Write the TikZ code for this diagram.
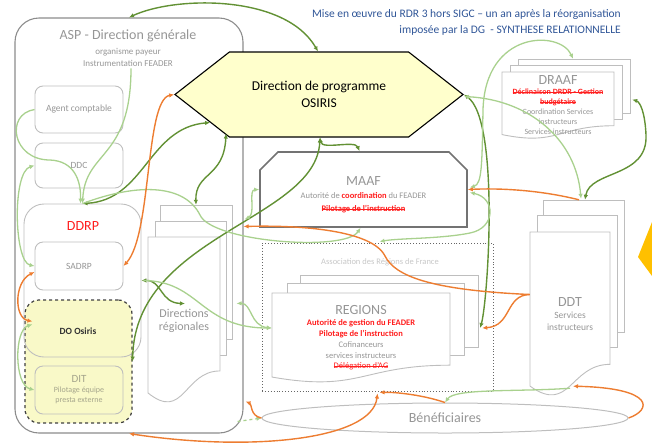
\documentclass[tikz,border=0pt]{standalone}
\usepackage{fontspec}
\setmainfont{Carlito}
\usetikzlibrary{shapes.geometric,shapes.misc,shapes.symbols,arrows.meta,calc}

\definecolor{vertfonce}{RGB}{98,145,52}
\definecolor{vertclair}{RGB}{169,209,142}
\definecolor{orangef}{RGB}{237,125,49}
\definecolor{jaunep}{RGB}{255,255,204}
\definecolor{jauneo}{RGB}{249,249,200}
\definecolor{grist}{RGB}{150,150,150}
\definecolor{grisb}{RGB}{190,190,190}
\definecolor{griscadre}{RGB}{140,140,140}
\definecolor{rouget}{RGB}{255,30,30}
\definecolor{bleut}{RGB}{47,85,151}
\definecolor{jauneor}{RGB}{255,192,0}
\definecolor{beige}{RGB}{165,165,140}

\newcommand\barre[1]{\setbox0\hbox{#1}\rlap{\raisebox{0.27em}{\rule{\wd0}{0.6pt}}}\box0}

\tikzset{
	>={Latex[length=5pt,width=4.5pt]},
	vf/.style={draw=vertfonce, line width=1.4pt},
	vc/.style={draw=vertclair, line width=1.3pt},
	orangec/.style={draw=orangef, line width=1.4pt},
	cadre/.style={draw=griscadre, line width=1.1pt, rounded corners=24pt},
	boite/.style={draw=grisb, line width=0.9pt, rounded corners=8pt, text=grist,
		font=\fontsize{9.5}{11}\selectfont, minimum width=88pt, inner sep=1pt, align=center},
	page/.style={draw=grisb, line width=0.9pt, fill=white},
	doc/.style={text=grist, align=center, inner sep=0pt},
	gros/.style={font=\fontsize{14}{16}\selectfont}
}

\newcommand\pagefond[4]{\path[page] (#1,#2) rectangle (#3,#4);}
\newcommand\pagedoc[4]{\path[page] (#1,#2) -- (#3,#2) -- (#3,{#2+0.802*#4})
	.. controls ({(#1+#3)/2},{#2+0.802*#4}) and ({(#1+#3)/2},{#2+1.107*#4}) .. (#1,{#2+0.934*#4}) -- cycle;}

\begin{document}
\begin{tikzpicture}[x=1pt,y=-1pt]
	\useasboundingbox (0,0) rectangle (652,445);
	
	\node[anchor=north east, align=right, text=bleut, inner sep=0pt,
		font=\fontsize{11.5}{16.5}\selectfont] (titre) at (621,9)
		{Mise en œuvre du RDR 3 hors SIGC – un an après la réorganisation\\
		imposée par la DG \ - SYNTHESE RELATIONNELLE};
	
	\node[cadre, minimum width=228pt, minimum height=415pt] (asp) at (129,225.5) {};
	\node[text=grist, gros, inner sep=0pt] (asptitre) at (128,36) {ASP - Direction générale};
	\node[text=grist, align=center, inner sep=0pt, font=\fontsize{9}{12}\selectfont]
		(aspsub) at (128,57) {organisme payeur\\Instrumentation FEADER};
	
	\node[boite, minimum height=47pt] (agent) at (79,109.5) {Agent comptable};
	\node[boite, minimum height=45pt] (ddc) at (79,165.5) {DDC};
	\node[draw=black!75, dashed, line width=1.2pt, fill=jauneo, rounded corners=14pt,
		minimum width=107pt, minimum height=123pt] (doosiris) at (78.5,361.5) {};
	\node[draw=grisb, line width=0.9pt, rounded corners=20pt,
		minimum width=117pt, minimum height=153pt] (ddrp) at (82.5,280.5) {};
	\node[text=rouget, font=\fontsize{14}{16}\selectfont, inner sep=0pt] (ddrptitre) at (83,226) {DDRP};
	\node[boite, minimum height=48pt, fill=white] (sadrp) at (79,266) {SADRP};
	\node[font=\fontsize{9.5}{11}\selectfont\bfseries, text=black!80, inner sep=0pt] (dotitre) at (78,331) {DO Osiris};
	\node[boite, minimum height=48pt, fill=jauneo, text=beige, font=\fontsize{8}{10}\selectfont] (dit) at (79,390)
		{{\fontsize{11}{12}\selectfont DIT}\\Pilotage équipe\\presta externe};
	
	\pagefond{160}{205}{232}{339}
	\pagefond{155}{221}{226}{355}
	\pagedoc{148}{237}{220}{167}
	\node[doc, minimum width=72pt, minimum height=167pt, font=\fontsize{12}{13}\selectfont] (dirreg) at (184,320.5)
		{Directions\\régionales};
	
	\node[signal, signal to=west and east, signal pointer angle=76, draw=black, line width=1.1pt,
		fill=jaunep, minimum width=288pt, minimum height=85pt, align=center,
		font=\fontsize{13.5}{17}\selectfont] (dirprog) at (319,94.5) {Direction de programme\\OSIRIS};
	
	\pagefond{518}{59}{630}{113}
	\pagefond{510}{65}{622}{119}
	\pagedoc{502}{72}{614}{67}
	\node[doc, minimum width=112pt, minimum height=67pt, font=\fontsize{8}{10}\selectfont] (draaf) at (558,105.5)
		{{\fontsize{14}{14}\selectfont DRAAF}\\
		{\color{rouget}\bfseries\barre{Déclinaison DRDR - Gestion}}\\
		{\color{rouget}\bfseries\barre{budgétaire}}\\
		Coordination Services\\instructeurs\\Services instructeurs};
	
	\node[chamfered rectangle, chamfered rectangle corners={north west,north east},
		chamfered rectangle xsep=9pt, chamfered rectangle ysep=9pt,
		draw=black!55, line width=1.6pt, fill=white, minimum width=207pt, minimum height=75pt,
		text=grist, align=center, font=\fontsize{8.5}{13}\selectfont] (maaf) at (363.5,189.5)
		{{\fontsize{14}{14}\selectfont\rule{0pt}{20pt}MAAF}\\
		Autorité de {\color{rouget}\bfseries coordination} du FEADER\\
		{\color{rouget}\bfseries\barre{Pilotage de l’instruction}}};
	
	\node[draw=black!60, dotted, line width=0.9pt, minimum width=231pt, minimum height=148pt] (assoc) at (377.5,317) {};
	\node[text=black!22, inner sep=0pt, font=\fontsize{8.5}{10}\selectfont] (assoctitre) at (380,262)
		{Association des Régions de France};
	
	\pagefond{300}{275}{478}{347}
	\pagefond{287}{283}{464}{355}
	\pagedoc{272}{293}{450}{90}
	\node[doc, minimum width=178pt, minimum height=90pt, font=\fontsize{8.5}{10.8}\selectfont] (regions) at (361,338)
		{{\fontsize{14}{14}\selectfont REGIONS}\\
		{\color{rouget}\bfseries Autorité de gestion du FEADER}\\
		{\color{rouget}\bfseries Pilotage de l’instruction}\\
		Cofinanceurs\\services instructeurs\\
		{\color{rouget}\barre{Délégation d’AG}}};
	
	\pagefond{543}{200}{624}{332}
	\pagefond{537}{215}{617}{347}
	\pagedoc{530}{232}{610}{165}
	\node[doc, minimum width=80pt, minimum height=165pt, font=\fontsize{9.5}{12}\selectfont] (ddt) at (570,314.5)
		{{\fontsize{14}{16}\selectfont DDT}\\Services\\instructeurs};
	
	\node[ellipse, draw=grisb, line width=1pt, fill=white, minimum width=366pt, minimum height=30pt,
		inner sep=0pt, text=grist, gros] (benef) at (445,418) {Bénéficiaires};
	
	\fill[jauneor] (652,222) -- (638,257) -- (652,276) -- cycle;
	
	\draw[vf,<->] (asp.north) .. controls (175,-4) and (285,-6) .. ($(dirprog.north)+(-1,0)$);
	\draw[vf,<->] (ddrp.north) .. controls (145,200) and (148,128) .. ($(dirprog.west)+(36,28)$);
	\draw[vf,<->] ($(dirreg.north)+(12,-32)$) .. controls (195,172) and (224,178) .. ($(dirprog.south)+(-93,-4)$);
	\draw[vf,<->] ($(dirprog.south)+(1,0)$) .. controls (322,150) and (355,140) .. ($(maaf.north)+(-4,0)$);
	\draw[vf,<->] ($(dirprog.south)+(1,0)$) .. controls (316,220) and (135,235) .. (doosiris.east);
	\draw[vf,<->] (ddrp.east) .. controls (162,280) and (160,303) .. ($(dirreg)+(1,-17)$);
	\draw[vf,<->] (dirprog.east) .. controls (500,120) and (488,300) .. ($(regions.east)+(30,-10)$);
	\draw[vf,<->] ($(ddt.north)+(15,-32)$) .. controls (590,170) and (648,178) .. (646,135)
		.. controls (645,112) and (640,102) .. ($(draaf.east)+(18,-6)$);
	
	\draw[vc,->] ($(aspsub.south)+(3,2)$) .. controls (131,160) and (85,150) .. (ddrp.north);
	\draw[vc,->] (agent.west) .. controls (5,114) and (12,160) .. (50,160)
		.. controls (74,161) and (81,180) .. ($(ddrp.north)+(-2,0)$);
	\draw[vc,<->] (sadrp.west) .. controls (14,262) and (12,172) .. (ddc.west);
	\draw[vc,->] (ddrp.north) .. controls (140,182) and (185,185) .. (200,215)
		.. controls (212,242) and (345,252) .. ($(maaf.south)+(-3,0)$);
	\draw[vc,<->] (maaf.west) .. controls (248,190) and (256,214) .. ($(asp.east)+(1,-6)$);
	\draw[vc,<->] ($(draaf.north)+(15,-13)$) .. controls (560,30) and (485,30) .. (483,110)
		.. controls (482,165) and (482,184) .. ($(maaf.east)+(2,-2)$);
	\draw[vc,<->] ($(maaf.east)+(2,3)$) .. controls (496,198) and (496,228) .. (470,233)
		.. controls (440,239) and (400,238) .. ($(assoc.north)+(2,-1)$);
	\draw[vc,<->] ($(dirprog.east)+(0,2)$) .. controls (530,100) and (576,140) .. ($(ddt.north)+(11,-33)$);
	\draw[vc,->] ($(ddrp.east)+(2,0)$) .. controls (200,281) and (200,328) .. ($(regions.west)+(0,-10)$);
	\draw[vc,<->] ($(asp.east)+(-7,78)$) .. controls (252,303) and (250,326) .. ($(regions.west)+(0,-10)$);
	\draw[vc,->] ($(ddt.south)+(0,-9)$) .. controls (520,392) and (455,388) .. (benef.north);
	\draw[vc,->,dashed] ($(asp.east)+(-6,196)$) -- (benef.west);
	\draw[vc,<->] ($(doosiris.north west)+(8,25)$) .. controls (14,330) and (14,385) .. (dit.west);
	
	\draw[orangec,<->] (dirprog.west) .. controls (145,100) and (152,235) .. (sadrp.east);
	\draw[orangec,<->] ($(sadrp.west)+(0,6)$) .. controls (14,282) and (14,318) .. ($(doosiris.north west)+(8,22)$);
	\draw[orangec,->] ($(ddt.north)+(9,-32)$) .. controls (540,190) and (500,188) .. (maaf.east);
	\draw[orangec,->] ($(ddt.west)+(0,-20)$) .. controls (430,290) and (395,276) .. (385,256)
		.. controls (372,230) and (300,225) .. ($(asp.east)+(0,1)$);
	\draw[orangec,->] ($(ddt.west)+(0,-20)$) .. controls (505,295) and (512,326) .. ($(regions.east)+(32,-10)$);
	\draw[orangec,->] (benef.east) .. controls (652,410) and (655,388) .. ($(ddt.south)+(3,-11)$);
	\draw[orangec,->] (benef.north) .. controls (420,394) and (392,392) .. ($(assoc.south)+(2,1)$);
	\draw[orangec,<->] (asp.south) .. controls (250,452) and (372,440) .. ($(assoc.south)+(0,2)$);
	\draw[orangec,->] (benef.west) .. controls (250,416) and (252,404) .. ($(asp.east)+(2,176)$);
\end{tikzpicture}
\end{document}
